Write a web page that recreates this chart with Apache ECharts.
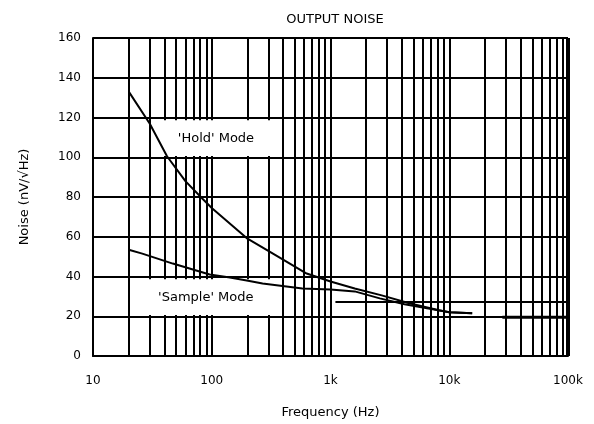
<!DOCTYPE html>
<html>
<head>
<meta charset="utf-8">
<script src="https://cdn.jsdelivr.net/npm/echarts@6/dist/echarts.min.js"></script>
<style>html,body{margin:0;padding:0;background:#fff;}#c{width:594px;height:424px;}</style>
</head>
<body>
<div id="c"></div>
<script>
// Data
const holdFreq = [20, 30, 42, 60, 84, 100, 200, 350, 630, 1000, 1600, 2700, 4600, 8200, 10000, 15600];
const holdNoise = [133, 117, 100.5, 88, 79, 74.5, 59, 50.5, 41.5, 37.5, 34, 30.5, 26.5, 23, 22, 21.5];
const sampleFreq = [20, 26, 47, 65, 96, 142, 197, 268, 580, 1000, 1600, 2600, 4200, 6500, 10000, 15600];
const sampleNoise = [53.5, 51.5, 46.5, 44, 41, 39.5, 38, 36.5, 34, 33.5, 32.5, 29, 26, 24, 22, 21.5];
const tailFreq = [28000, 100000];
const tailNoise = [19.5, 19.5];
const xTickValues = [10, 100, 1000, 10000, 100000];
const xTickLabels = ['10', '100', '1k', '10k', '100k'];
const minorFreqs = [20, 30, 40, 50, 60, 70, 80, 90,
  200, 300, 400, 500, 600, 700, 800, 900,
  2000, 3000, 4000, 5000, 6000, 7000, 8000, 9000,
  20000, 30000, 40000, 50000, 60000, 70000, 80000, 90000];
const holdLabel = "'Hold' Mode";
const sampleLabel = "'Sample' Mode";

const pairs = (xs, ys) => xs.map((x, i) => [x, ys[i]]);
const font = 'DejaVu Sans';

const chart = echarts.init(document.getElementById('c'), null, {renderer: 'canvas'});
chart.setOption({
  animation: false,
  backgroundColor: '#fff',
  title: {
    text: 'OUTPUT NOISE', left: 330, top: 8, textAlign: 'center',
    textStyle: {fontFamily: font, fontSize: 13, fontWeight: 'normal', color: '#000'}
  },
  grid: {left: 93, right: 26, top: 38, bottom: 66},
  xAxis: {
    type: 'log', logBase: 10, min: 10, max: 100000,
    name: 'Frequency (Hz)', nameLocation: 'middle', nameGap: 50,
    nameTextStyle: {fontFamily: font, fontSize: 13, color: '#000'},
    axisLine: {lineStyle: {color: '#000', width: 2}},
    axisTick: {show: false},
    splitLine: {show: true, lineStyle: {color: '#000', width: 2}},
    axisLabel: {
      fontFamily: font, fontSize: 12, color: '#000', margin: 19,
      formatter: v => {
        const i = xTickValues.findIndex(t => Math.abs(Math.log10(t) - Math.log10(v)) < 1e-6);
        return i >= 0 ? xTickLabels[i] : '';
      }
    }
  },
  yAxis: {
    type: 'value', min: 0, max: 160, interval: 20,
    name: 'Noise (nV/√Hz)', nameLocation: 'middle', nameGap: 62, nameRotate: 90,
    nameTextStyle: {fontFamily: font, fontSize: 13, color: '#000'},
    axisLine: {lineStyle: {color: '#000', width: 2}},
    axisTick: {show: false},
    splitLine: {show: true, lineStyle: {color: '#000', width: 2}},
    axisLabel: {fontFamily: font, fontSize: 12, color: '#000', margin: 12}
  },
  series: [
    {
      type: 'line', z: 10, data: pairs(holdFreq, holdNoise), symbol: 'none',
      lineStyle: {color: '#000', width: 2},
      markLine: {
        z: 4, silent: true, symbol: 'none', label: {show: false},
        lineStyle: {color: '#000', width: 2, type: 'solid'},
        data: minorFreqs.map(f => ({xAxis: f})).concat([
          {xAxis: 100000, lineStyle: {color: '#000', width: 4, type: 'solid'}},
          [{coord: [1100, 27.5]}, {coord: [100000, 27.5]}]
        ])
      },
      markArea: {
        z: 6, silent: true,
        itemStyle: {color: '#fff'},
        label: {show: true, position: 'inside', fontFamily: font, fontSize: 13, color: '#000'},
        data: [
          [{name: holdLabel, coord: [31, 118.6]}, {coord: [380, 100.6]}],
          [{name: sampleLabel, coord: [20.9, 38.6]}, {coord: [380, 20.6]}]
        ]
      }
    },
    {
      type: 'line', z: 10, data: pairs(sampleFreq, sampleNoise), symbol: 'none',
      lineStyle: {color: '#000', width: 2}
    },
    {
      type: 'line', z: 10, data: pairs(tailFreq, tailNoise), symbol: 'none',
      lineStyle: {color: '#000', width: 3}
    }
  ]
});
</script>
</body>
</html>
